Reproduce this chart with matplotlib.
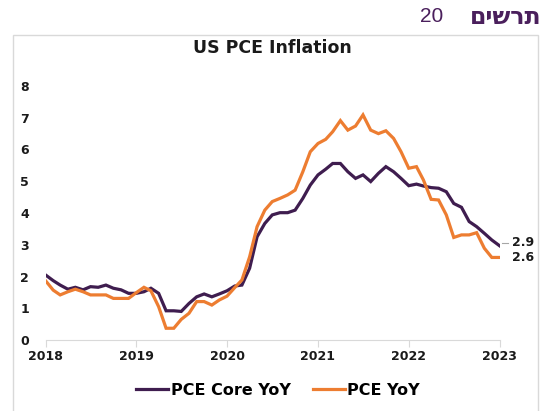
import matplotlib
matplotlib.use("Agg")
import matplotlib.pyplot as plt
import matplotlib.dates as mdates
from matplotlib.patches import Rectangle
from matplotlib.lines import Line2D
import pandas as pd

# monthly data, Jan 2018 - Jan 2023
months = pd.date_range("2018-01-01", "2023-01-01", freq="MS")

core = [2.05, 1.87, 1.73, 1.60, 1.66, 1.58, 1.68, 1.66, 1.73, 1.63, 1.58, 1.47,
        1.47, 1.52, 1.63, 1.47, 0.92, 0.92, 0.90, 1.15, 1.36, 1.45, 1.36, 1.45,
        1.55, 1.70, 1.73, 2.26, 3.25, 3.67, 3.94, 4.01, 4.01, 4.09, 4.46, 4.88,
        5.20, 5.38, 5.56, 5.56, 5.30, 5.09, 5.20, 4.99, 5.25, 5.46, 5.30, 5.09,
        4.86, 4.91, 4.85, 4.80, 4.78, 4.67, 4.30, 4.18, 3.73, 3.57, 3.36, 3.15,
        2.97]

pce = [1.87, 1.57, 1.42, 1.52, 1.60, 1.52, 1.42, 1.42, 1.42, 1.31, 1.31, 1.31,
       1.49, 1.66, 1.55, 1.05, 0.37, 0.37, 0.65, 0.84, 1.21, 1.21, 1.10, 1.26,
       1.38, 1.65, 1.89, 2.62, 3.57, 4.09, 4.36, 4.46, 4.57, 4.72, 5.30, 5.93,
       6.19, 6.32, 6.56, 6.91, 6.61, 6.74, 7.09, 6.61, 6.50, 6.59, 6.35, 5.93,
       5.41, 5.46, 5.04, 4.43, 4.41, 3.94, 3.23, 3.31, 3.31, 3.38, 2.89, 2.60,
       2.60]

core_label = "2.9"
pce_label = "2.6"
series_names = ["PCE Core YoY", "PCE YoY"]
title = "US PCE Inflation"
header_word = "תרשים"
header_num = "20"

purple = "#3f1d4f"
orange = "#ed7d31"
header_col = "#4a1f5c"

fig = plt.figure(figsize=(5.45, 4.11), dpi=100)
fig.patch.set_facecolor("white")

# outer frame of the chart box
fig.patches.append(Rectangle((13 / 545, -0.01), 525 / 545, 1 - 35 / 411 + 0.01,
                             transform=fig.transFigure, fill=False,
                             edgecolor="#d9d9d9", linewidth=1.0))

# header (hebrew drawn in visual order)
fig.text(542 / 545, 1 - 17 / 411, header_word[::-1], ha="right", va="center",
         fontsize=17, fontweight="bold", color=header_col, family="DejaVu Sans")
fig.text(443 / 545, 1 - 17 / 411, header_num, ha="right", va="center",
         fontsize=15, color=header_col, family="Liberation Sans")

fig.text(272 / 545, 1 - 48 / 411, title, ha="center", va="center",
         fontsize=12.5, fontweight="bold", color="#1a1a1a")

ax = fig.add_axes([45.5 / 545, 1 - 340 / 411, 454 / 545, 254 / 411])
ax.plot(months, core, color=purple, linewidth=2.3, solid_joinstyle="miter")
ax.plot(months, pce, color=orange, linewidth=2.3, solid_joinstyle="miter")

ax.set_xlim(months[0], months[-1])
ax.set_ylim(0, 8)
ax.set_yticks(range(0, 9))
ax.xaxis.set_major_locator(mdates.YearLocator())
ax.xaxis.set_major_formatter(mdates.DateFormatter("%Y"))

for s in ["top", "right", "left"]:
    ax.spines[s].set_visible(False)
ax.spines["bottom"].set_color("#d9d9d9")
ax.tick_params(axis="x", length=5, color="#d9d9d9", pad=2, labelsize=9)
ax.tick_params(axis="y", length=0, pad=12, labelsize=9)
for lab in ax.get_xticklabels() + ax.get_yticklabels():
    lab.set_fontweight("bold")
    lab.set_color("#1a1a1a")

# end labels
ax.annotate(core_label, xy=(months[-1], core[-1]), xytext=(9, 2),
            textcoords="offset points", ha="left", va="center",
            fontsize=9, fontweight="bold", color="#1a1a1a", annotation_clip=False)
ax.annotate(pce_label, xy=(months[-1], pce[-1]), xytext=(9, 0),
            textcoords="offset points", ha="left", va="center",
            fontsize=9, fontweight="bold", color="#1a1a1a", annotation_clip=False)
fig.add_artist(Line2D([502 / 545, 508 / 545], [1 - 243 / 411, 1 - 243 / 411],
                      color="#a6a6a6", linewidth=0.8))

handles = [Line2D([], [], color=purple, linewidth=2.3),
           Line2D([], [], color=orange, linewidth=2.3)]
leg = fig.legend(handles, series_names, loc="center", bbox_to_anchor=(278 / 545, 1 - 390 / 411),
                 ncol=2, frameon=False, handlelength=2.0, handletextpad=0.15,
                 columnspacing=1.4, prop={"size": 11.5, "weight": "bold"})

fig.savefig("out.png", dpi=100, facecolor="white")
